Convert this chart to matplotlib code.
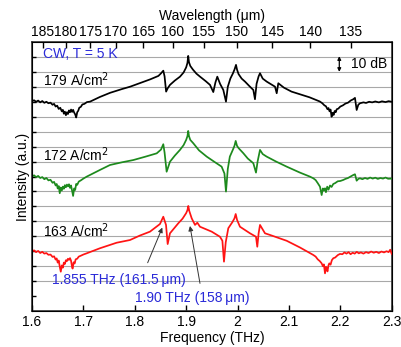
import matplotlib
matplotlib.use("Agg")
import matplotlib.pyplot as plt
import numpy as np

plt.rcParams['font.family'] = ['Liberation Sans', 'DejaVu Sans']

# frequency (THz) and level (dB-like units, 10 per grid line)
f_179 = [1.600, 1.604, 1.608, 1.612, 1.616, 1.620, 1.624, 1.628, 1.632, 1.636,
         1.640, 1.643, 1.646, 1.649, 1.652, 1.655, 1.658, 1.660, 1.662, 1.664,
         1.666, 1.668, 1.670, 1.672, 1.674, 1.676, 1.678, 1.680, 1.682, 1.684,
         1.686, 1.688, 1.690, 1.692, 1.695, 1.698, 1.702, 1.707, 1.713, 1.732,
         1.752, 1.775, 1.791, 1.810, 1.830, 1.846, 1.851, 1.8555, 1.858, 1.861,
         1.864, 1.8685, 1.878, 1.888, 1.895, 1.900, 1.9025, 1.904, 1.9055, 1.908,
         1.913, 1.920, 1.927, 1.938, 1.9464, 1.9528, 1.957, 1.9606, 1.966, 1.9723,
         1.9775, 1.981, 1.986, 1.991, 1.994, 1.997, 1.999, 2.002, 2.008, 2.0145,
         2.023, 2.0307, 2.0339, 2.037, 2.041, 2.0437, 2.049, 2.0567, 2.065, 2.0729,
         2.0762, 2.0793, 2.090, 2.105, 2.1215, 2.140, 2.160, 2.165, 2.169, 2.172,
         2.175, 2.177, 2.179, 2.181, 2.183, 2.185, 2.187, 2.189, 2.191, 2.193,
         2.196, 2.200, 2.205, 2.210, 2.215, 2.220, 2.2252, 2.2285, 2.2318, 2.235,
         2.2383, 2.245, 2.250, 2.256, 2.262, 2.268, 2.275, 2.281, 2.288, 2.294,
         2.300]
y_179 = [140.4, 141.0, 140.0, 140.8, 139.6, 140.5, 139.3, 140.0, 139.0, 139.4,
         138.0, 138.6, 136.8, 137.4, 135.2, 136.0, 133.6, 134.6, 132.0, 133.4,
         131.0, 133.0, 131.8, 134.2, 133.0, 134.8, 133.2, 134.6, 132.8, 131.6,
         129.5, 133.0, 134.0, 136.0, 136.6, 138.2, 138.6, 139.8, 140.1, 143.2,
         146.0, 148.5, 150.1, 152.5, 155.0, 157.3, 159.0, 160.8, 157.0, 146.8,
         149.0, 151.3, 154.2, 156.8, 159.6, 163.0, 166.0, 170.7, 166.5, 164.0,
         161.6, 158.8, 156.8, 153.8, 151.3, 146.5, 153.0, 156.8, 152.0, 147.9,
         140.1, 150.0, 155.5, 159.0, 161.5, 164.7, 161.5, 158.5, 155.5, 153.5,
         150.5, 147.9, 141.7, 152.0, 157.0, 159.1, 155.5, 153.5, 151.8, 150.1,
         145.7, 152.4, 149.5, 146.8, 145.0, 143.0, 140.2, 139.0, 137.6, 137.0,
         135.0, 135.8, 133.6, 134.8, 130.0, 132.6, 131.2, 133.8, 133.0, 135.0,
         135.4, 136.8, 137.6, 138.8, 139.4, 140.8, 141.7, 142.6, 134.5, 138.0,
         139.0, 139.6, 139.2, 140.0, 139.6, 140.2, 139.6, 140.3, 139.8, 140.4,
         140.0]

f_172 = [1.600, 1.604, 1.608, 1.612, 1.616, 1.620, 1.624, 1.628, 1.632, 1.636,
         1.640, 1.643, 1.646, 1.648, 1.650, 1.652, 1.654, 1.656, 1.658, 1.660,
         1.662, 1.664, 1.666, 1.668, 1.670, 1.672, 1.674, 1.676, 1.678, 1.680,
         1.682, 1.684, 1.686, 1.688, 1.691, 1.695, 1.700, 1.7064, 1.7323, 1.7518,
         1.775, 1.797, 1.820, 1.8427, 1.851, 1.8555, 1.858, 1.862, 1.8685, 1.878,
         1.888, 1.895, 1.900, 1.9025, 1.904, 1.9055, 1.908, 1.914, 1.925, 1.940,
         1.955, 1.969, 1.9745, 1.9775, 1.981, 1.985, 1.991, 1.994, 1.9964, 1.999,
         2.002, 2.0112, 2.020, 2.0307, 2.0359, 2.039, 2.0437, 2.049, 2.0567, 2.075,
         2.0956, 2.1215, 2.141, 2.1474, 2.152, 2.156, 2.1604, 2.1637, 2.166, 2.168,
         2.1702, 2.172, 2.1745, 2.177, 2.180, 2.183, 2.1863, 2.190, 2.195, 2.200,
         2.2058, 2.210, 2.215, 2.220, 2.2252, 2.2285, 2.2318, 2.235, 2.2383, 2.243,
         2.248, 2.253, 2.258, 2.263, 2.268, 2.273, 2.278, 2.283, 2.288, 2.293,
         2.300]
y_172 = [89.9, 90.8, 89.6, 90.4, 89.0, 89.6, 88.2, 89.0, 87.4, 87.8,
         85.8, 86.4, 84.0, 85.0, 82.0, 83.6, 78.8, 82.6, 80.6, 83.2,
         81.8, 84.2, 82.8, 84.6, 83.4, 84.8, 82.4, 84.0, 80.5, 77.0,
         82.0, 81.0, 85.0, 84.4, 86.6, 87.4, 88.6, 89.9, 94.4, 97.7,
         99.5, 101.0, 103.2, 105.5, 108.0, 111.6, 106.0, 93.2, 99.9, 104.0,
         107.8, 111.0, 114.5, 117.0, 120.5, 117.0, 114.5, 112.2, 107.5, 103.3,
         99.8, 96.6, 92.0, 79.9, 95.0, 103.3, 108.0, 110.5, 113.8, 110.5,
         109.0, 105.6, 102.0, 98.9, 92.6, 100.0, 107.8, 105.0, 103.3, 100.0,
         96.6, 92.6, 89.9, 88.8, 87.6, 85.6, 83.2, 77.6, 82.0, 80.6,
         82.1, 79.5, 83.2, 81.2, 84.0, 83.0, 85.0, 85.6, 86.8, 87.0,
         87.7, 88.4, 89.0, 90.0, 91.0, 91.5, 87.2, 88.4, 88.8, 88.2,
         89.0, 88.4, 89.3, 88.6, 89.2, 88.4, 89.0, 88.6, 89.3, 88.5,
         88.6]

f_163 = [1.600, 1.604, 1.608, 1.612, 1.616, 1.620, 1.624, 1.628, 1.632, 1.636,
         1.640, 1.643, 1.646, 1.648, 1.650, 1.652, 1.654, 1.656, 1.658, 1.660,
         1.662, 1.664, 1.666, 1.668, 1.670, 1.672, 1.674, 1.676, 1.678, 1.679,
         1.681, 1.683, 1.685, 1.688, 1.691, 1.695, 1.700, 1.7064, 1.7323, 1.7648,
         1.7907, 1.810, 1.8296, 1.849, 1.8555, 1.8608, 1.864, 1.8685, 1.8847, 1.893,
         1.900, 1.9025, 1.9042, 1.906, 1.9108, 1.9172, 1.9217, 1.9269, 1.9497, 1.9658,
         1.9705, 1.9736, 1.977, 1.982, 1.990, 1.994, 1.9964, 1.999, 2.0047, 2.0242,
         2.0359, 2.0384, 2.041, 2.0437, 2.0534, 2.0631, 2.0956, 2.1215, 2.1474, 2.152,
         2.156, 2.160, 2.1637, 2.166, 2.168, 2.1702, 2.172, 2.1734, 2.175, 2.177,
         2.1785, 2.181, 2.1835, 2.1863, 2.190, 2.195, 2.1993, 2.204, 2.208, 2.212,
         2.216, 2.220, 2.224, 2.228, 2.232, 2.236, 2.240, 2.245, 2.250, 2.255,
         2.260, 2.265, 2.270, 2.275, 2.280, 2.285, 2.290, 2.294, 2.297, 2.300]
y_163 = [39.7, 40.6, 39.4, 40.2, 38.8, 39.6, 38.4, 38.8, 37.6, 37.8,
         36.2, 36.6, 34.4, 35.2, 32.4, 33.8, 29.7, 26.3, 30.5, 29.0,
         32.4, 31.5, 34.0, 33.4, 35.0, 34.2, 35.4, 33.6, 29.5, 28.4,
         32.6, 31.8, 34.6, 35.0, 36.4, 37.0, 37.8, 38.6, 42.0, 45.7,
         47.5, 50.5, 53.1, 58.2, 63.1, 57.6, 44.8, 52.0, 58.7, 61.8,
         65.5, 67.5, 70.3, 67.0, 62.0, 57.6, 59.1, 56.4, 53.1, 49.7,
         47.0, 33.0, 46.0, 55.4, 59.5, 62.0, 64.9, 61.0, 56.4, 52.0,
         49.7, 43.0, 52.0, 57.6, 52.0, 50.9, 47.0, 42.5, 37.5, 36.4,
         34.6, 33.4, 31.9, 30.0, 31.2, 25.2, 29.6, 28.6, 26.5, 30.6,
         31.9, 31.0, 34.0, 35.3, 35.8, 37.4, 38.2, 38.0, 39.2, 38.4,
         39.4, 38.0, 39.0, 38.4, 39.6, 38.6, 39.2, 38.4, 39.4, 38.8,
         39.8, 39.0, 39.6, 38.8, 39.8, 39.2, 40.0, 39.4, 41.0, 38.2]

freq_ticks = [1.6, 1.7, 1.8, 1.9, 2.0, 2.1, 2.2, 2.3]
freq_labels = ['1.6', '1.7', '1.8', '1.9', '2', '2.1', '2.2', '2.3']
wl_ticks = [185, 180, 175, 170, 165, 160, 155, 150, 145, 140, 135]

blue = '#2a2ad8'

fig = plt.figure(figsize=(4.02, 3.47), dpi=100)
ax = fig.add_axes([0.0796, 0.1037, 0.8948, 0.7753])

# horizontal grid
for g in range(20, 180, 10):
    ax.axhline(g, color='#a8a8a8', lw=0.8, zorder=1)

ax.plot(f_179, y_179, color='black', lw=1.25, zorder=3)
ax.plot(f_172, y_172, color='#1d8a1d', lw=1.25, zorder=3)
ax.plot(f_163, y_163, color='#ff1414', lw=1.25, zorder=3)

ax.set_xlim(1.6, 2.3)
ax.set_ylim(0, 180)
ax.set_xticks(freq_ticks)
ax.set_xticklabels(freq_labels, fontsize=10)
ax.set_yticks(range(10, 180, 10))
ax.set_yticklabels([])
ax.tick_params(axis='x', direction='in', length=4, width=1, pad=3)
ax.tick_params(axis='y', direction='in', length=3, width=1)
ax.set_xlabel('Frequency (THz)', fontsize=10, labelpad=1)
ax.set_ylabel('Intensity (a.u.)', fontsize=10, labelpad=-2)
for s in ax.spines.values():
    s.set_linewidth(1.2)
    s.set_color('#333333')

ax2 = ax.twiny()
ax2.set_xlim(1.6, 2.3)
ax2.set_xticks([299.792 / w for w in wl_ticks])
ax2.set_xticklabels([str(w) for w in wl_ticks], fontsize=10)
ax2.tick_params(axis='x', direction='in', length=4, width=1, pad=2)
ax2.set_xlabel('Wavelength (\u03bcm)', fontsize=10, labelpad=4)

ax.text(1.621, 172, 'CW, T = 5 K', color=blue, fontsize=10, va='center')
ax.text(1.621, 155, '179 A/cm$^2$', fontsize=10, va='center')
ax.text(1.621, 104.5, '172 A/cm$^2$', fontsize=10, va='center')
ax.text(1.621, 53.5, '163 A/cm$^2$', fontsize=10, va='center')

ax.annotate('', xy=(2.198, 170.5), xytext=(2.198, 160),
            arrowprops=dict(arrowstyle='<|-|>', lw=0.9, color='black',
                            mutation_scale=5, shrinkA=0, shrinkB=0))
ax.text(2.221, 165.3, '10 dB', fontsize=10, va='center')

ax.annotate('1.855 THz (161.5\u2009\u03bcm)', xy=(1.8536, 55.8), xytext=(1.638, 20.7),
            color=blue, fontsize=10, va='center', ha='left')
ax.annotate('', xy=(1.8536, 55.8), xytext=(1.8251, 32.3),
            arrowprops=dict(arrowstyle='-|>', lw=0.7, color='#333333',
                            mutation_scale=7, shrinkA=0, shrinkB=0))
ax.annotate('1.90 THz (158\u2009\u03bcm)', xy=(1.9074, 56.9), xytext=(1.8004, 8.9),
            color=blue, fontsize=10, va='center', ha='left')
ax.annotate('', xy=(1.9074, 56.9), xytext=(1.9269, 18.5),
            arrowprops=dict(arrowstyle='-|>', lw=0.7, color='#333333',
                            mutation_scale=7, shrinkA=0, shrinkB=0))

fig.savefig('out.png', dpi=100)
